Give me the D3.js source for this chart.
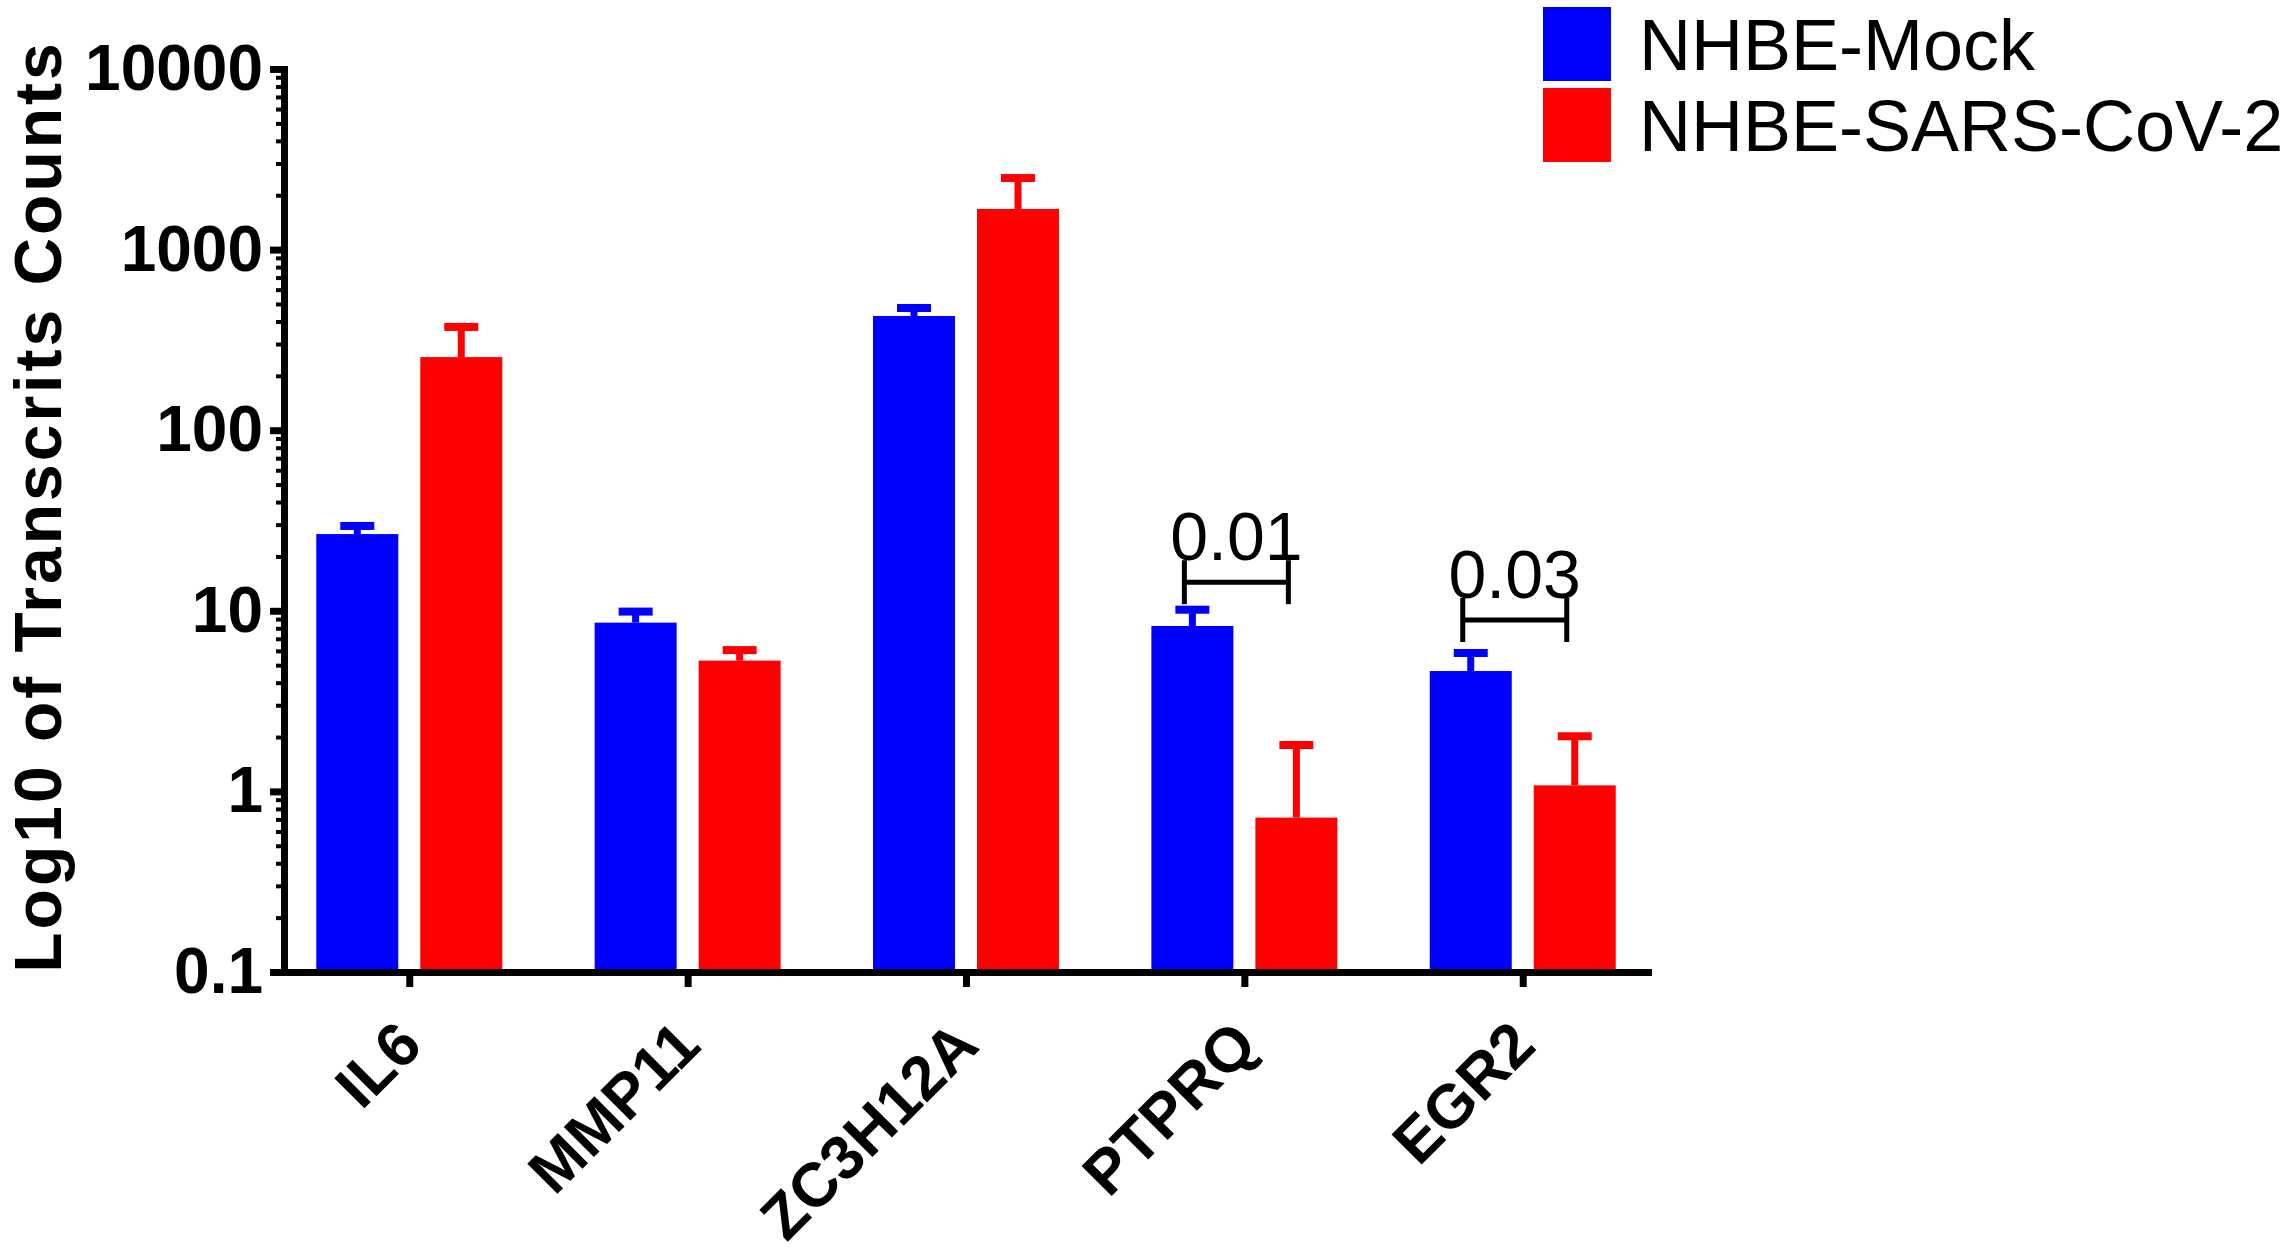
<!DOCTYPE html>
<html>
<head>
<meta charset="utf-8">
<script src="https://cdn.jsdelivr.net/npm/d3@7"></script>
<style>
  body { margin: 0; background: #fff; }
  svg { display: block; font-family: "Liberation Sans", Arial, sans-serif; }
</style>
</head>
<body>
<div id="chart"></div>
<script>
// data
const genes = ['IL6', 'MMP11', 'ZC3H12A', 'PTPRQ', 'EGR2'];
const seriesNames = ['NHBE-Mock', 'NHBE-SARS-CoV-2'];
const mockMean = [26.6, 8.6, 429, 8.24, 4.64];
const mockSD = [2.9, 1.3, 46, 1.9, 1.2];
const sarsMean = [254, 5.3, 1679, 0.716, 1.08];
const sarsSD = [119, 0.76, 811, 1.09, 0.94];
const yTickValues = [0.1, 1, 10, 100, 1000, 10000];
const yTickLabels = ['0.1', '1', '10', '100', '1000', '10000'];
const pGenes = ['PTPRQ', 'EGR2'];
const pLabels = ['0.01', '0.03'];
const pLevels = [14.4, 8.9];
const colours = ['#0000ff', '#ff0000'];

const w = 2287;
const h = 1256;
const margin = ({ top: 69, right: 639, bottom: 284, left: 284 });

const svg = d3.select('#chart')
  .append('svg')
  .attr('width', w)
  .attr('height', h)
  .attr('viewBox', `0 0 ${w} ${h}`);

// scales
const xScale = d3.scalePoint()
  .domain(genes)
  .range([margin.left, w - margin.right])
  .padding(0.45);

const subScale = d3.scaleBand()
  .domain(seriesNames)
  .range([-93, 93])
  .paddingInner(0.2115);

const yScale = d3.scaleLog()
  .domain([0.1, 10000])
  .range([h - margin.bottom, margin.top]);

const colScale = d3.scaleOrdinal().domain(seriesNames).range(colours);

const dataset = genes.flatMap((g, i) => [
  { gene: g, series: seriesNames[0], mean: mockMean[i], sd: mockSD[i] },
  { gene: g, series: seriesNames[1], mean: sarsMean[i], sd: sarsSD[i] }
]);

const barX = d => xScale(d.gene) + subScale(d.series);
const barMid = d => barX(d) + subScale.bandwidth() / 2;

// bars
svg.append('g')
  .selectAll('rect')
  .data(dataset)
  .enter()
  .append('rect')
  .attr('x', barX)
  .attr('y', d => yScale(d.mean))
  .attr('width', subScale.bandwidth())
  .attr('height', d => yScale(0.1) - yScale(d.mean))
  .attr('fill', d => colScale(d.series));

// error bars (upper only)
const err = svg.append('g')
  .selectAll('g')
  .data(dataset)
  .enter()
  .append('g')
  .attr('fill', d => colScale(d.series));

err.append('rect')
  .attr('x', d => barMid(d) - 3.5)
  .attr('y', d => yScale(d.mean + d.sd))
  .attr('width', 7)
  .attr('height', d => yScale(d.mean) - yScale(d.mean + d.sd));

err.append('rect')
  .attr('x', d => barMid(d) - 17)
  .attr('y', d => yScale(d.mean + d.sd) - 4)
  .attr('width', 34)
  .attr('height', 8);

// y axis: minor ticks then major ticks
const minorTicks = yScale.ticks().filter(v => !yTickValues.some(t => Math.abs(t - v) < 1e-9));

svg.append('g')
  .attr('transform', `translate(${margin.left}, 0)`)
  .call(d3.axisLeft(yScale).tickValues(minorTicks).tickSize(8).tickFormat(''))
  .call(g => g.select('.domain').remove())
  .call(g => g.selectAll('line').attr('stroke', '#000').attr('stroke-width', 4));

svg.append('g')
  .classed('y-axis', true)
  .attr('transform', `translate(${margin.left}, 0)`)
  .call(d3.axisLeft(yScale)
    .tickValues(yTickValues)
    .tickFormat((d, i) => yTickLabels[i])
    .tickSize(14)
    .tickSizeOuter(0)
    .tickPadding(7))
  .call(g => g.select('.domain').attr('stroke-width', 7).attr('stroke-linecap', 'square'))
  .call(g => g.selectAll('line').attr('stroke-width', 7))
  .call(g => g.selectAll('text')
    .attr('fill', '#000')
    .attr('font-size', 64)
    .attr('font-weight', 'bold')
    .attr('font-family', '"Liberation Sans", Arial, sans-serif'));

// x axis
svg.append('g')
  .classed('x-axis', true)
  .attr('transform', `translate(0, ${h - margin.bottom})`)
  .call(d3.axisBottom(xScale).tickSize(15).tickSizeOuter(0))
  .call(g => g.select('.domain').attr('stroke-width', 7).attr('stroke-linecap', 'square'))
  .call(g => g.selectAll('line').attr('stroke-width', 7))
  .call(g => g.selectAll('text')
    .attr('y', 0)
    .attr('dy', 0)
    .attr('text-anchor', 'end')
    .attr('transform', 'translate(15, 76) rotate(-45)')
    .attr('fill', '#000')
    .attr('font-size', 62)
    .attr('font-weight', 'bold')
    .attr('font-family', '"Liberation Sans", Arial, sans-serif'));

// y axis title
svg.append('text')
  .attr('transform', `translate(61, ${(yScale(0.1) + yScale(10000)) / 2 - 14}) rotate(-90)`)
  .attr('text-anchor', 'middle')
  .attr('font-size', 66)
  .attr('font-weight', 'bold')
  .attr('letter-spacing', 3)
  .text('Log10 of Transcrits Counts');

// p-value brackets
pGenes.forEach((g, i) => {
  const x1 = xScale(g) + subScale(seriesNames[0]) + subScale.bandwidth() / 2 - 8;
  const x2 = xScale(g) + subScale(seriesNames[1]) + subScale.bandwidth() / 2 - 8;
  const y = yScale(pLevels[i]);
  const br = svg.append('g')
    .attr('stroke', '#000')
    .attr('stroke-width', 5)
    .attr('fill', 'none');
  br.append('line').attr('x1', x1).attr('x2', x2).attr('y1', y).attr('y2', y);
  br.append('line').attr('x1', x1).attr('x2', x1).attr('y1', y - 22).attr('y2', y + 22);
  br.append('line').attr('x1', x2).attr('x2', x2).attr('y1', y - 22).attr('y2', y + 22);
  svg.append('text')
    .attr('x', (x1 + x2) / 2)
    .attr('y', y - 22)
    .attr('text-anchor', 'middle')
    .attr('font-size', 68)
    .text(pLabels[i]);
});

// legend
const legend = svg.append('g')
  .selectAll('g')
  .data(seriesNames)
  .enter()
  .append('g')
  .attr('transform', (d, i) => `translate(1543, ${7 + i * 81})`);

legend.append('rect')
  .attr('width', 68)
  .attr('height', 74)
  .attr('fill', d => colScale(d));

legend.append('text')
  .attr('x', 96)
  .attr('y', 63)
  .attr('font-size', 72)
  .text(d => d);
</script>
</body>
</html>
